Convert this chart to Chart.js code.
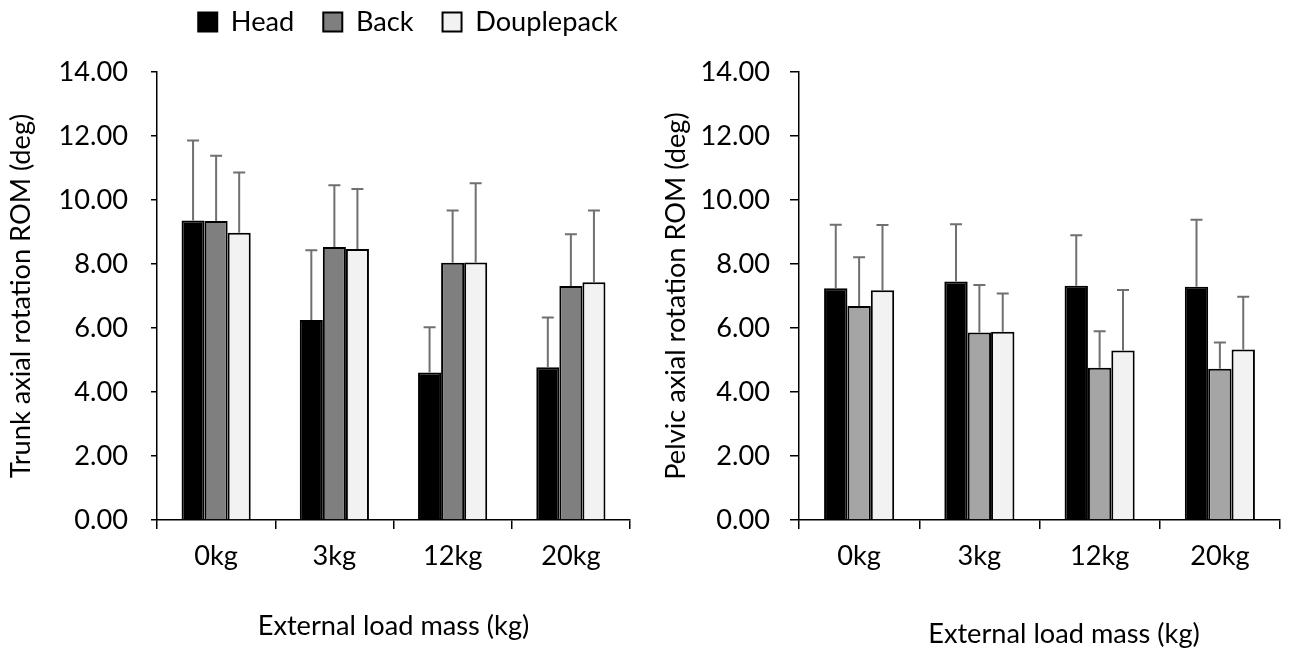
<!DOCTYPE html>
<html>
<head>
<meta charset="utf-8">
<script src="https://cdn.jsdelivr.net/npm/chart.js@4/dist/chart.umd.min.js"></script>
<style>
  html, body { margin: 0; padding: 0; background: #fff; width: 1289px; height: 648px; overflow: hidden; }
  canvas { position: absolute; top: 0; }
  #trunk { left: 0; }
  #pelvic { left: 645px; }
</style>
</head>
<body>
<canvas id="trunk" width="645" height="648"></canvas>
<canvas id="pelvic" width="644" height="648"></canvas>
<script>
// ---- data -------------------------------------------------------------
const loads = ['0kg', '3kg', '12kg', '20kg'];
const seriesNames = ['Head', 'Back', 'Douplepack'];
const yTickValues = [0, 2, 4, 6, 8, 10, 12, 14];

// Trunk axial rotation ROM (deg): mean and SD per carrying condition
const trunkHead = [9.36, 6.25, 4.61, 4.77];
const trunkHeadSd = [2.50, 2.18, 1.41, 1.56];
const trunkBack = [9.34, 8.53, 8.04, 7.31];
const trunkBackSd = [2.04, 1.93, 1.63, 1.62];
const trunkDouple = [8.98, 8.47, 8.05, 7.43];
const trunkDoupleSd = [1.88, 1.87, 2.47, 2.24];

// Pelvic axial rotation ROM (deg)
const pelvicHead = [7.24, 7.45, 7.32, 7.29];
const pelvicHeadSd = [1.99, 1.79, 1.58, 2.09];
const pelvicBack = [6.69, 5.86, 4.76, 4.73];
const pelvicBackSd = [1.52, 1.48, 1.14, 0.82];
const pelvicDouple = [7.18, 5.88, 5.30, 5.33];
const pelvicDoupleSd = [2.04, 1.20, 1.89, 1.65];

// ---- typography -------------------------------------------------------
const FAMILY = 'Lato, "Open Sans", "DejaVu Sans", sans-serif';
const X_CAPTION = 'External load mass (kg)';
// size the face so the axis caption runs about 272px wide
const probe = document.createElement('canvas').getContext('2d');
probe.font = '100px ' + FAMILY;
const FONT_SIZE = Math.round(100 * 272 / probe.measureText(X_CAPTION).width * 10) / 10;

Chart.defaults.font.family = FAMILY;
Chart.defaults.font.size = FONT_SIZE;
Chart.defaults.color = '#000';

// ---- plugins ----------------------------------------------------------
// upward SD whiskers on every bar
const errorBars = {
  id: 'errorBars',
  afterDatasetsDraw(chart, _args, opts) {
    const { ctx } = chart;
    const yScale = chart.scales.y;
    ctx.save();
    ctx.strokeStyle = opts.color;
    ctx.lineWidth = opts.width;
    chart.data.datasets.forEach((ds, i) => {
      const meta = chart.getDatasetMeta(i);
      if (!meta.visible || !ds.sd) return;
      meta.data.forEach((bar, j) => {
        const top = yScale.getPixelForValue(ds.data[j] + ds.sd[j]);
        const x = bar.x;
        ctx.beginPath();
        ctx.moveTo(x, bar.y);
        ctx.lineTo(x, top);
        ctx.moveTo(x - opts.cap / 2, top);
        ctx.lineTo(x + opts.cap / 2, top);
        ctx.stroke();
      });
    });
    ctx.restore();
  }
};

// lift the legend row above the plot and centre it on a given x
const legendAnchor = {
  id: 'legendAnchor',
  afterLayout(chart, _args, opts) {
    const lg = chart.legend;
    if (!lg || !lg.options.display || opts.centerX == null) return;
    const pad = lg.options.labels.padding;
    const newTop = opts.centerY - pad - FONT_SIZE / 2;
    const h = lg.bottom - lg.top;
    lg.top = newTop;
    lg.bottom = newTop + h;
    const half = (lg.right - lg.left) / 2;
    lg.left = opts.centerX - half;
    lg.right = opts.centerX + half;
  }
};

// caption under the category axis
const axisCaption = {
  id: 'axisCaption',
  afterDraw(chart, _args, opts) {
    if (!opts.text) return;
    const sx = chart.scales.x;
    const ctx = chart.ctx;
    ctx.save();
    ctx.font = FONT_SIZE + 'px ' + FAMILY;
    ctx.fillStyle = '#000';
    ctx.textAlign = 'center';
    ctx.textBaseline = 'middle';
    ctx.fillText(opts.text, (sx.left + sx.right) / 2 + opts.shift, opts.y);
    ctx.restore();
  }
};

// ---- chart factory ----------------------------------------------------
function buildChart(id, p) {
  const datasets = [
    { label: seriesNames[0], data: p.head, sd: p.headSd, backgroundColor: '#000000' },
    { label: seriesNames[1], data: p.back, sd: p.backSd, backgroundColor: p.backColor },
    { label: seriesNames[2], data: p.douple, sd: p.doupleSd, backgroundColor: '#f2f2f2' }
  ].map(d => Object.assign(d, {
    borderColor: '#000',
    borderWidth: 2,
    barPercentage: 1,
    categoryPercentage: p.groupShare
  }));

  return new Chart(document.getElementById(id), {
    type: 'bar',
    data: { labels: loads, datasets },
    plugins: [errorBars, legendAnchor, axisCaption],
    options: {
      responsive: false,
      animation: false,
      layout: { padding: { left: 0, right: p.padRight, top: 0, bottom: 0 } },
      plugins: {
        tooltip: { enabled: false },
        legend: {
          display: p.legend,
          position: 'top',
          labels: { boxWidth: 19, boxHeight: 19, padding: 29, color: '#000', font: { size: FONT_SIZE } }
        },
        legendAnchor: { centerX: p.legendX, centerY: 22 },
        axisCaption: { text: X_CAPTION, shift: p.captionShift, y: p.captionY },
        errorBars: { color: '#707070', width: 2, cap: 12 }
      },
      scales: {
        x: {
          offset: true,
          afterFit(s) { s.height = 648 - 520; },
          border: { display: true, color: '#000', width: 1.5 },
          grid: { display: true, offset: true, drawOnChartArea: false, drawTicks: true, tickLength: 9, color: '#000', lineWidth: 1.5 },
          ticks: { padding: 556 - 529 - FONT_SIZE * 0.6, color: '#000', font: { size: FONT_SIZE } }
        },
        y: {
          min: 0,
          max: 14,
          afterBuildTicks(s) { s.ticks = yTickValues.map(v => ({ value: v })); },
          afterFit(s) { s.width = p.axisLeft; s.paddingTop = 72; },
          border: { display: true, color: '#000', width: 1.5 },
          grid: { display: true, drawOnChartArea: false, drawTicks: true, tickLength: p.yTickLen, color: '#000', lineWidth: 1.5 },
          ticks: { padding: p.yTickPad, color: '#000', font: { size: FONT_SIZE }, callback: v => Number(v).toFixed(2) },
          title: {
            display: true,
            text: p.yTitle,
            color: '#000',
            font: { size: FONT_SIZE, lineHeight: 1.2 },
            padding: { top: p.yTitleX - FONT_SIZE * 0.6, bottom: 0 }
          }
        }
      }
    }
  });
}

buildChart('trunk', {
  head: trunkHead, headSd: trunkHeadSd,
  back: trunkBack, backSd: trunkBackSd,
  douple: trunkDouple, doupleSd: trunkDoupleSd,
  backColor: '#7f7f7f',
  groupShare: 0.585,
  padRight: 15,
  axisLeft: 157,
  yTickLen: 6,
  yTickPad: 23,
  yTitle: 'Trunk axial rotation ROM (deg)',
  yTitleX: 21,
  legend: true,
  legendX: 408,
  captionShift: 0,
  captionY: 626
});

buildChart('pelvic', {
  head: pelvicHead, headSd: pelvicHeadSd,
  back: pelvicBack, backSd: pelvicBackSd,
  douple: pelvicDouple, doupleSd: pelvicDoupleSd,
  backColor: '#a5a5a5',
  groupShare: 0.583,
  padRight: 9,
  axisLeft: 154,
  yTickLen: 9,
  yTickPad: 20,
  yTitle: 'Pelvic axial rotation ROM (deg)',
  yTitleX: 31,
  legend: false,
  legendX: null,
  captionShift: 24.5,
  captionY: 634
});
</script>
</body>
</html>
